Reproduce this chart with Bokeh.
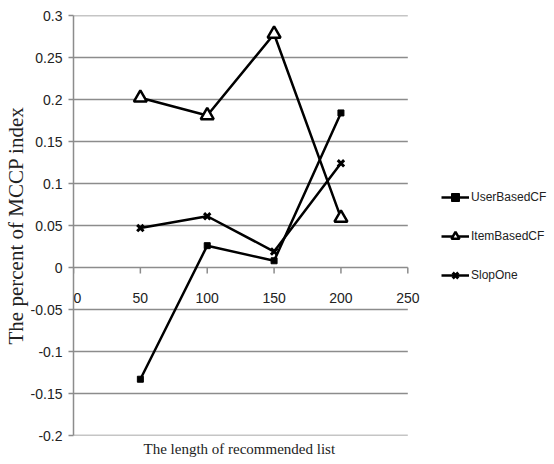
from bokeh.plotting import figure
from bokeh.models import FixedTicker, Legend, LegendItem, ColumnDataSource, LabelSet, Label, Title
from bokeh.core.properties import value
from bokeh.embed import file_html
from bokeh.resources import INLINE

# ---- data ----
list_length = [50, 100, 150, 200]
user_based_cf = [-0.133, 0.026, 0.008, 0.184]
item_based_cf = [0.202, 0.181, 0.278, 0.059]
slop_one = [0.047, 0.061, 0.019, 0.124]

x_ticks = [0, 50, 100, 150, 200, 250]
x_tick_labels = ["0", "50", "100", "150", "200", "250"]
y_ticks = [-0.2, -0.15, -0.1, -0.05, 0, 0.05, 0.1, 0.15, 0.2, 0.25, 0.3]
y_tick_labels = ["-0.2", "-0.15", "-0.1", "-0.05", "0", "0.05", "0.1", "0.15", "0.2", "0.25", "0.3"]
x_title = "The length of recommended list"
y_title = "The percent of MCCP index"

X_MIN, X_MAX = 0, 250
Y_MIN, Y_MAX = -0.2, 0.3

# ---- layout (pixels) ----
W, H = 554, 464
LEFT, TOP, BOTTOM = 72, 15, 29
AXIS_W = 335                      # pixels spanned by 0..250
FRAME_W = W - LEFT
x_end = X_MAX * FRAME_W / AXIS_W  # extra room on the right for the legend

GRID = "#8c8c8c"
TXT = "#222222"
TICK_FONT = "Liberation Sans"
SERIF = "Liberation Serif"

p = figure(width=W, height=H, x_range=(X_MIN, x_end), y_range=(Y_MIN, Y_MAX),
           output_backend="svg", toolbar_location=None,
           min_border_left=LEFT, min_border_right=0, min_border_top=TOP, min_border_bottom=BOTTOM)
p.outline_line_color = None
p.background_fill_color = "white"
p.grid.visible = False
p.xaxis.visible = False

# y axis
p.yaxis.ticker = FixedTicker(ticks=y_ticks)
p.yaxis.major_label_overrides = dict(zip(y_ticks, y_tick_labels))
p.yaxis.axis_line_color = GRID
p.yaxis.axis_line_width = 1.5
p.yaxis.major_tick_line_color = GRID
p.yaxis.major_tick_line_width = 1.5
p.yaxis.major_tick_out = 5
p.yaxis.major_tick_in = 0
p.yaxis.minor_tick_line_color = None
p.yaxis.major_label_standoff = 6
p.yaxis.major_label_text_font = TICK_FONT
p.yaxis.major_label_text_font_size = "14px"
p.yaxis.major_label_text_color = TXT
p.yaxis.axis_label = y_title
p.yaxis.axis_label_text_font = SERIF
p.yaxis.axis_label_text_font_style = "normal"
p.yaxis.axis_label_text_font_size = "21px"
p.yaxis.axis_label_text_color = TXT
p.yaxis.axis_label_standoff = 0

# horizontal grid lines over the data area 0..250
p.segment(x0=[X_MIN] * len(y_ticks), y0=y_ticks, x1=[X_MAX] * len(y_ticks), y1=y_ticks,
          line_color=GRID, line_width=1.5)

# x axis drawn at y = 0: tick marks and labels
n = len(x_ticks)
tick_src = ColumnDataSource(dict(x=x_ticks, y=[0] * n, y1=[-0.007] * n, label=x_tick_labels))
p.segment(x0="x", y0="y", x1="x", y1="y1", source=tick_src, line_color=GRID, line_width=1.5)
label_src = ColumnDataSource(dict(x=x_ticks[1:], y=[0] * (n - 1), label=x_tick_labels[1:]))
p.add_layout(LabelSet(x="x", y="y", text="label", source=label_src, text_align="center",
                      text_baseline="middle", y_offset=-30, text_font=value(TICK_FONT),
                      text_font_size="14px", text_color=TXT))
# first label sits on the frame edge: keep it fully inside
p.add_layout(Label(x=x_ticks[0], y=0, text=x_tick_labels[0], text_align="left",
                   text_baseline="middle", y_offset=-30, text_font=TICK_FONT,
                   text_font_size="14px", text_color=TXT))

# x title below the frame
p.add_layout(Title(text=x_title, align="left", offset=70, text_font=SERIF,
                   text_font_size="15px", text_font_style="normal", text_color=TXT,
                   standoff=6), "below")

LW = 2.5
l1 = p.line(list_length, user_based_cf, line_color="black", line_width=LW)
m1 = p.scatter(list_length, user_based_cf, marker="square", size=6, fill_color="black",
               line_color="black")
l2 = p.line(list_length, item_based_cf, line_color="black", line_width=LW)
m2 = p.scatter(list_length, item_based_cf, marker="triangle", size=13, fill_color="white",
               line_color="black", line_width=2.5)
l3 = p.line(list_length, slop_one, line_color="black", line_width=LW)
m3 = p.scatter(list_length, slop_one, marker="x", size=9, line_color="black", line_width=3)

legend = Legend(items=[
    LegendItem(label="UserBasedCF", renderers=[l1, m1]),
    LegendItem(label="ItemBasedCF", renderers=[l2, m2]),
    LegendItem(label="SlopOne", renderers=[l3, m3]),
], location=(368, 150))
legend.border_line_color = None
legend.background_fill_alpha = 0
legend.padding = 0
legend.margin = 0
legend.spacing = 19
legend.glyph_width = 28
legend.glyph_height = 20
legend.label_standoff = 2
legend.label_text_font = TICK_FONT
legend.label_text_font_size = "12px"
legend.label_text_color = TXT
p.add_layout(legend, "center")

open("out.html", "w").write(file_html(p, INLINE))
